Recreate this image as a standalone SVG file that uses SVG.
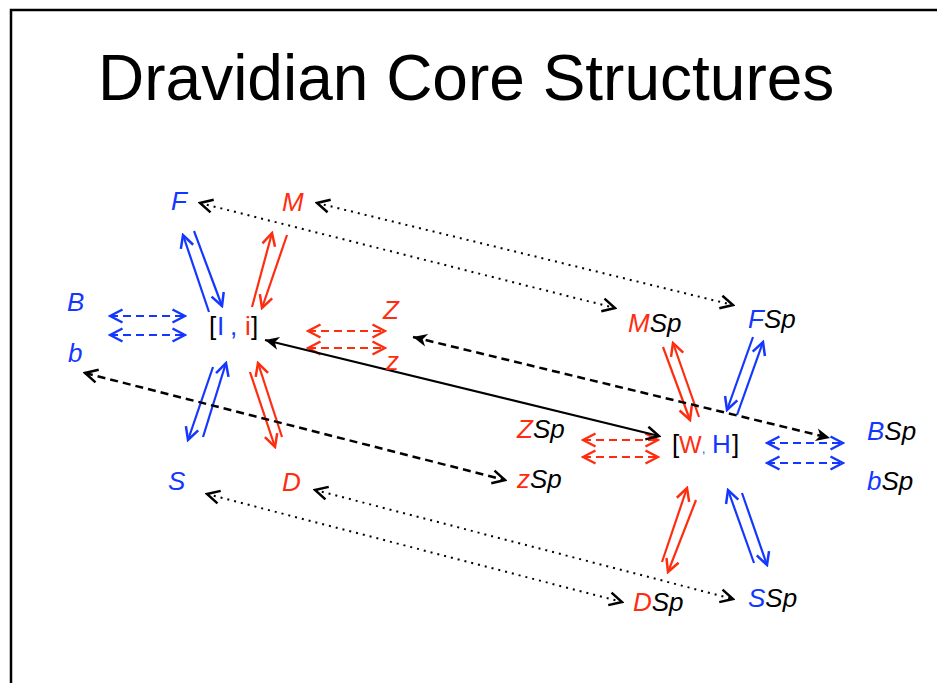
<svg xmlns="http://www.w3.org/2000/svg" width="937" height="683" viewBox="0 0 937 683">
<style>
.t{font-family:"Liberation Sans",Arial,sans-serif;}
.lb{font-family:"Liberation Sans",Arial,sans-serif;font-size:26px;font-style:italic;}
.nb{font-family:"Liberation Sans",Arial,sans-serif;font-size:26px;}
.bl{fill:#1437ff;}
.rd{fill:#ff2d10;}
.bk{fill:#000;}
.cb{stroke:#1437ff;stroke-width:2.2;fill:none;}
.cr{stroke:#ff2d10;stroke-width:2.2;fill:none;}
.dash{stroke-dasharray:8 5;}
.dot{stroke:#000;stroke-width:2;fill:none;stroke-dasharray:2 5;}
.kd{stroke:#000;stroke-width:2.5;fill:none;stroke-dasharray:8 5;}
.ks{stroke:#000;stroke-width:2.2;fill:none;}
</style>
<defs>
<marker id="ab" viewBox="0 0 16 16" refX="14" refY="8" markerWidth="16" markerHeight="16" markerUnits="userSpaceOnUse" orient="auto-start-reverse"><path d="M1.5,1.5 L14,8 L1.5,14.5" fill="none" stroke="#1437ff" stroke-width="2.5" stroke-linejoin="miter"/></marker>
<marker id="ar" viewBox="0 0 16 16" refX="14" refY="8" markerWidth="16" markerHeight="16" markerUnits="userSpaceOnUse" orient="auto-start-reverse"><path d="M1.5,1.5 L14,8 L1.5,14.5" fill="none" stroke="#ff2d10" stroke-width="2.5"/></marker>
<marker id="ak" viewBox="0 0 16 16" refX="14" refY="8" markerWidth="16" markerHeight="16" markerUnits="userSpaceOnUse" orient="auto-start-reverse"><path d="M1.5,1.5 L14,8 L1.5,14.5" fill="none" stroke="#000" stroke-width="2.5"/></marker>
<marker id="af" viewBox="0 0 16 16" refX="15" refY="8" markerWidth="16" markerHeight="16" markerUnits="userSpaceOnUse" orient="auto-start-reverse"><path d="M1,1.5 L15,8 L1,14.5 L5,8 z" fill="#000"/></marker>
</defs>
<rect width="937" height="683" fill="#fff"/>
<polyline points="11,690 11,10 945,10" fill="none" stroke="#000" stroke-width="2.5"/>
<text class="t" x="98" y="100" font-size="64">Dravidian Core Structures</text>

<g id="connectors">
<line class="cb" x1="209" y1="312" x2="183" y2="235" marker-end="url(#ab)"/>
<line class="cb" x1="194" y1="231" x2="222" y2="306" marker-end="url(#ab)"/>
<line class="cr" x1="252" y1="307" x2="272" y2="233" marker-end="url(#ar)"/>
<line class="cr" x1="287" y1="235" x2="262" y2="308" marker-end="url(#ar)"/>
<line class="cb" x1="213" y1="367" x2="188" y2="440" marker-end="url(#ab)"/>
<line class="cb" x1="203" y1="437" x2="226" y2="363" marker-end="url(#ab)"/>
<line class="cr" x1="250" y1="372" x2="275" y2="447" marker-end="url(#ar)"/>
<line class="cr" x1="282" y1="437" x2="258" y2="363" marker-end="url(#ar)"/>
<line class="cb dash" x1="110" y1="316" x2="185" y2="316" marker-start="url(#ab)" marker-end="url(#ab)"/>
<line class="cb dash" x1="110" y1="335" x2="185" y2="335" marker-start="url(#ab)" marker-end="url(#ab)"/>
<line class="cr dash" x1="308" y1="331" x2="385" y2="331" marker-start="url(#ar)" marker-end="url(#ar)"/>
<line class="cr dash" x1="308" y1="348" x2="385" y2="348" marker-start="url(#ar)" marker-end="url(#ar)"/>
<line class="cr" x1="663" y1="347" x2="690" y2="420" marker-end="url(#ar)"/>
<line class="cr" x1="699" y1="417" x2="673" y2="343" marker-end="url(#ar)"/>
<line class="cb" x1="753" y1="337" x2="727" y2="410" marker-end="url(#ab)"/>
<line class="cb" x1="737" y1="415" x2="763" y2="342" marker-end="url(#ab)"/>
<line class="cr" x1="662" y1="562" x2="687" y2="488" marker-end="url(#ar)"/>
<line class="cr" x1="696" y1="500" x2="668" y2="572" marker-end="url(#ar)"/>
<line class="cb" x1="754" y1="563" x2="728" y2="490" marker-end="url(#ab)"/>
<line class="cb" x1="742" y1="493" x2="767" y2="565" marker-end="url(#ab)"/>
<line class="cr dash" x1="583" y1="440" x2="658" y2="440" marker-start="url(#ar)" marker-end="url(#ar)"/>
<line class="cr dash" x1="583" y1="457" x2="658" y2="457" marker-start="url(#ar)" marker-end="url(#ar)"/>
<line class="cb dash" x1="767" y1="443" x2="843" y2="443" marker-start="url(#ab)" marker-end="url(#ab)"/>
<line class="cb dash" x1="767" y1="463" x2="843" y2="463" marker-start="url(#ab)" marker-end="url(#ab)"/>
<line class="dot" x1="200" y1="203" x2="615" y2="308" marker-start="url(#ak)" marker-end="url(#ak)"/>
<line class="dot" x1="317" y1="203" x2="733" y2="305" marker-start="url(#ak)" marker-end="url(#ak)"/>
<line class="dot" x1="207" y1="494" x2="622" y2="602" marker-start="url(#ak)" marker-end="url(#ak)"/>
<line class="dot" x1="315" y1="490" x2="733" y2="599" marker-start="url(#ak)" marker-end="url(#ak)"/>
<line class="kd" x1="85" y1="373" x2="505" y2="480" marker-start="url(#ak)" marker-end="url(#ak)"/>
<line class="kd" x1="413" y1="337" x2="830" y2="438" marker-start="url(#af)" marker-end="url(#af)"/>
<line class="ks" x1="265" y1="340" x2="659" y2="436" marker-start="url(#af)" marker-end="url(#ak)"/>
</g>

<g id="node-F"><text class="lb bl" x="171" y="210">F</text></g>
<g id="node-M"><text class="lb rd" x="282" y="211">M</text></g>
<g id="node-B"><text class="lb bl" x="67" y="311">B</text></g>
<g id="node-b"><text class="lb bl" x="68" y="362">b</text></g>
<g id="node-Ii"><text class="nb" y="335"><tspan class="bk" x="209">[</tspan><tspan class="bl" x="217">I</tspan><tspan class="bl" x="230">,</tspan><tspan class="rd" x="245">i</tspan><tspan class="bk" x="251">]</tspan></text></g>
<g id="node-Z"><text class="lb rd" x="383" y="319">Z</text></g>
<g id="node-z"><text class="lb rd" x="386" y="370">z</text></g>
<g id="node-S"><text class="lb bl" x="168" y="490">S</text></g>
<g id="node-D"><text class="lb rd" x="282" y="491">D</text></g>
<g id="node-ZSp"><text class="lb" x="517" y="438"><tspan class="rd">Z</tspan><tspan class="bk">Sp</tspan></text></g>
<g id="node-zSp"><text class="lb" x="517" y="488"><tspan class="rd">z</tspan><tspan class="bk">Sp</tspan></text></g>
<g id="node-MSp"><text class="lb" x="628" y="332"><tspan class="rd">M</tspan><tspan class="bk">Sp</tspan></text></g>
<g id="node-FSp"><text class="lb" x="748" y="328"><tspan class="bl">F</tspan><tspan class="bk">Sp</tspan></text></g>
<g id="node-WH"><text class="nb" y="453"><tspan class="bk" x="672">[</tspan><tspan class="rd" x="679" font-size="24">W</tspan><tspan class="bl" x="702" font-size="12">,</tspan><tspan class="bl" x="712">H</tspan><tspan class="bk" x="732">]</tspan></text></g>
<g id="node-BSp"><text class="lb" x="867" y="440"><tspan class="bl">B</tspan><tspan class="bk">Sp</tspan></text></g>
<g id="node-bSp"><text class="lb" x="867" y="490"><tspan class="bl">b</tspan><tspan class="bk">Sp</tspan></text></g>
<g id="node-DSp"><text class="lb" x="633" y="611"><tspan class="rd">D</tspan><tspan class="bk">Sp</tspan></text></g>
<g id="node-SSp"><text class="lb" x="748" y="607"><tspan class="bl">S</tspan><tspan class="bk">Sp</tspan></text></g>
</svg>
